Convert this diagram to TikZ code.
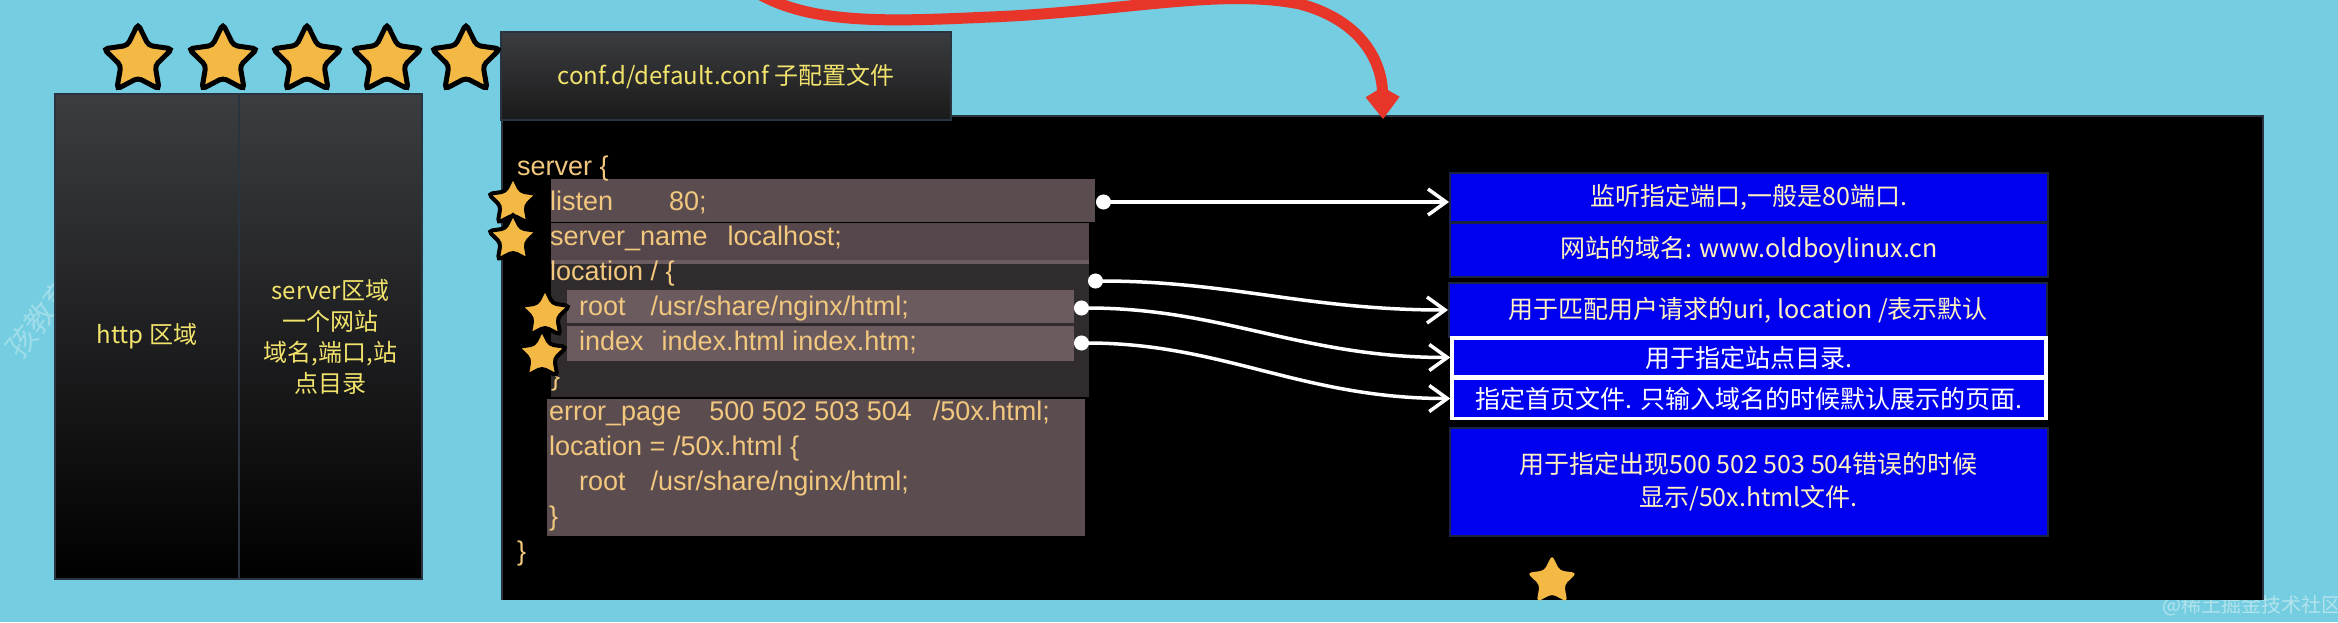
\documentclass[tikz,border=0pt]{standalone}
\usepackage{fontspec}
\setmainfont{Liberation Sans}
\newfontfamily\cjk{Noto Sans CJK SC}
\usetikzlibrary{shapes.geometric,arrows.meta}

\definecolor{bgcyan}{HTML}{74CDE0}
\definecolor{boxtop}{HTML}{3C3D40}
\definecolor{edgegray}{HTML}{2A3440}
\definecolor{zoneyellow}{HTML}{F2E36C}
\definecolor{codecol}{HTML}{F2C77E}
\definecolor{rowgray}{HTML}{5B4C50}
\definecolor{rowlight}{HTML}{6B5B5F}
\definecolor{blockgray}{HTML}{302B2C}
\definecolor{infoblue}{HTML}{0000F0}
\definecolor{infoedge}{HTML}{1C2340}
\definecolor{infotext}{HTML}{FFF2C0}
\definecolor{starfill}{HTML}{F4B944}
\definecolor{redline}{HTML}{E8352A}

\begin{document}
\begin{tikzpicture}[x=1pt,y=-1pt,
	zonebox/.style={draw=edgegray, line width=2pt, top color=boxtop, bottom color=black,
		minimum height=485pt, text=zoneyellow, font=\cjk\fontsize{24}{31}\selectfont, align=center},
	codeline/.style={anchor=base west, inner sep=0pt, text=codecol, font=\fontsize{27}{35}\selectfont},
	infobox/.style={rectangle, fill=infoblue, draw=infoedge, line width=2pt, minimum width=598pt,
		inner sep=0pt, text=infotext, font=\cjk\fontsize{25}{33}\selectfont, align=center},
	whitebox/.style={infobox, draw=white, line width=3.5pt, minimum width=594pt, text=white},
	goldstar/.style={star, star points=5, star point ratio=2.0, fill=starfill, draw=black,
		line width=5pt, rounded corners=4pt, inner sep=0pt, minimum size=72pt},
	smallstar/.style={goldstar, line width=4pt, minimum size=52pt},
	wire/.style={draw=white, line width=3.5pt, {Circle[length=15pt]}-{Straight Barb[length=18pt,width=26pt]}}]

		% Background
		\useasboundingbox (0,0) rectangle (2338,622);
		\clip (0,0) rectangle (2338,622);
		\fill[bgcyan] (0,0) rectangle (2338,622);
		\node[rotate=52, text=white, text opacity=0.3, font=\cjk\fontsize{30}{30}\selectfont] (mark1) at (40,318) {孩教育};
		\node[text=white, text opacity=0.45, font=\cjk\fontsize{20}{20}\selectfont] (mark2) at (2252,606) {@稀土掘金技术社区};

		% http / server zones
		\node[zonebox, minimum width=184pt] (http) at (147,336.5) {http 区域};
		\node[zonebox, minimum width=183pt] (server) at (330.5,336.5) {server区域\\一个网站\\域名,端口,站\\点目录};

		% Main config area
		\fill[black] (502,116) rectangle (2263,600);
		\draw[edgegray, line width=2pt] (502,600) -- (502,116) -- (2263,116) -- (2263,600);

		% Highlighted rows
		\fill[rowgray] (551,179) rectangle (1095,222);
		\fill[blockgray] (551,262) rectangle (1089,397);
		\fill[rowgray!92!black] (551,223) rectangle (1089,260);
		\fill[rowlight] (551,260) rectangle (1089,264);
		\fill[rowlight] (567,290) rectangle (1074,323);
		\fill[rowlight] (567,326) rectangle (1074,361);
		\fill[rowgray] (547,399) rectangle (1085,536);

		% Code lines
		\node[codeline] (l0) at (517,175) {server \{};
		\node[codeline] (l1) at (550,210) {listen\hspace{56pt}80;};
		\node[codeline] (l2) at (550,245) {server\_name\hspace{20pt}localhost;};
		\node[codeline] (l3) at (550,280) {location / \{};
		\node[codeline] (l4) at (579,315) {root\hspace{25pt}/usr/share/nginx/html;};
		\node[codeline] (l5) at (579,350) {index\hspace{18pt}index.html index.htm;};
		\node[codeline] (l6) at (551,385) {\}};
		\node[codeline] (l7) at (549,420) {error\_page\hspace{28pt}500 502 503 504\hspace{21pt}/50x.html;};
		\node[codeline] (l8) at (549,455) {location = /50x.html \{};
		\node[codeline] (l9) at (579,490) {root\hspace{25pt}/usr/share/nginx/html;};
		\node[codeline] (l10) at (549,525) {\}};
		\node[codeline] (l11) at (517,560) {\}};

		% Explanations
		\node[infobox, minimum height=49pt] (b1) at (1749,197.5) {监听指定端口,一般是80端口.};
		\node[infobox, minimum height=54pt] (b2) at (1749,250) {网站的域名: www.oldboylinux.cn};
		\node[infobox, minimum height=54pt] (b3) at (1748,310) {用于匹配用户请求的uri, location /表示默认};
		\node[whitebox, minimum height=39pt] (b4) at (1749,357.5) {用于指定站点目录.};
		\node[whitebox, minimum height=40pt] (b5) at (1749,398.5) {指定首页文件. 只输入域名的时候默认展示的页面.};
		\node[infobox, minimum height=108pt] (b6) at (1748.5,482) {用于指定出现500 502 503 504错误的时候\\显示/50x.html文件.};

		% Connectors
		\coordinate (p1) at (1096,202);
		\coordinate (p2) at (1088,281);
		\coordinate (p3) at (1074,308);
		\coordinate (p4) at (1074,343);
		\draw[wire] (p1) -- (p1 -| b1.west);
		\draw[wire] (p2) to[out=0,in=180] (b3.west);
		\draw[wire] (p3) to[out=0,in=180] (b4.west);
		\draw[wire] (p4) to[out=0,in=180] (b5.west);

		% Title
		\node[draw=edgegray, line width=2pt, top color=boxtop, bottom color=black!90!white,
			minimum width=450pt, minimum height=88pt, text=zoneyellow,
			font=\cjk\fontsize{24}{24}\selectfont] (title) at (726,76) {conf.d/default.conf 子配置文件};

		% Stars
		\node[goldstar] (s1) at (138,60) {};
		\node[goldstar] (s2) at (223,60) {};
		\node[goldstar] (s3) at (307,60) {};
		\node[goldstar] (s4) at (387,60) {};
		\node[goldstar] (s5) at (466,60) {};
		\node[smallstar] (s6) at (513,202) {};
		\node[smallstar] (s7) at (513,239) {};
		\node[smallstar] (s8) at (545,314) {};
		\node[smallstar] (s9) at (542,355) {};
		\node[smallstar, draw=none] (s10) at (1552,581) {};

		% Red arrow into the file
		\coordinate (rstart) at (745,-15);
		\coordinate (rend) at (1383,119);
		\draw[redline, line width=11pt, -{Kite[length=32pt,width=34pt,inset=10pt]}]
			(rstart) .. controls (800,25) and (880,22) .. (990,17)
			.. controls (1120,12) and (1220,-12) .. (1300,4)
			.. controls (1360,20) and (1382,60) .. (rend);
	\end{tikzpicture}
\end{document}
